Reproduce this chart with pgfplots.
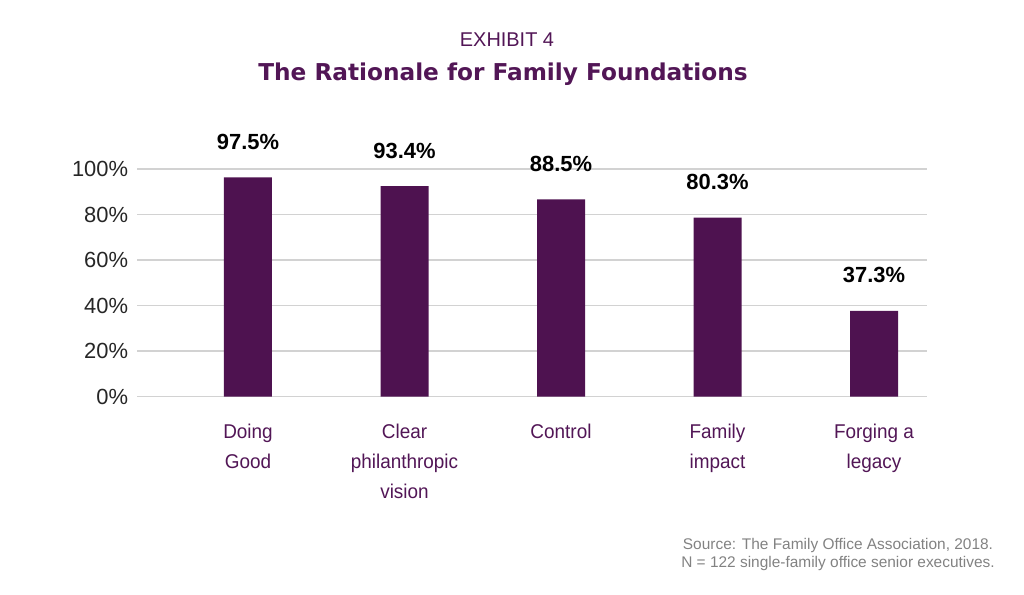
\documentclass[border=0pt]{standalone}
\usepackage{pgfplots}
\pgfplotsset{compat=1.18}
\usepackage{fontspec}
\setmainfont{Liberation Sans}
\newfontfamily\catfont[FakeStretch=0.95]{Liberation Sans}
\newfontfamily\titlefont{DejaVu Sans}
\definecolor{barpurple}{RGB}{78,18,80}
\definecolor{txtpurple}{RGB}{82,22,86}
\definecolor{gridgray}{RGB}{210,210,210}
\definecolor{srcgray}{RGB}{130,130,130}
\definecolor{tickgray}{RGB}{38,38,38}
\begin{document}
\begin{tikzpicture}
\useasboundingbox (0,0) rectangle (1024bp,-595bp);
\node[font=\fontsize{20}{24}\selectfont, text=txtpurple, anchor=base, inner sep=0pt] at (507bp,-46bp) {EXHIBIT 4};
\node[font=\titlefont\bfseries\fontsize{23.3}{27}\selectfont, text=txtpurple, anchor=base, inner sep=0pt] at (503bp,-80bp) {The Rationale for Family Foundations};
\begin{axis}[
  at={(137.3bp,-396.5bp)}, anchor=south west,
  scale only axis, width=789.4bp, height=227.5bp,
  xmin=-0.7073, xmax=4.3367, ymin=0, ymax=100,
  clip=false,
  axis line style={draw=none}, major tick length=0pt,
  ytick={0,20,40,60,80,100},
  yticklabels={0\%,20\%,40\%,60\%,80\%,100\%},
  yticklabel style={font=\fontsize{22}{25}\selectfont, text=tickgray, inner sep=0pt, xshift=-9bp},
  xtick={0,1,2,3,4},
  xticklabels={{Doing\\Good},{Clear\\philanthropic\\vision},{Control},{Family\\impact},{Forging a\\legacy}},
  xticklabel style={align=center, font=\catfont\fontsize{20}{30.5}\selectfont, text=txtpurple, anchor=north, inner sep=0pt, yshift=-27bp},
  ymajorgrids, grid style={gridgray, line width=1.6bp},
]
\addplot[ybar, bar width=48bp, fill=barpurple, draw=none,
  nodes near coords, point meta=explicit symbolic,
  nodes near coords style={anchor=base, inner sep=0pt, yshift=28bp, font=\bfseries\fontsize{22}{26}\selectfont, text=black}]
  coordinates {(0,96.3) [97.5\%] (1,92.5) [93.4\%] (2,86.7) [88.5\%] (3,78.6) [80.3\%] (4,37.6) [37.3\%]};
\end{axis}
\node[font=\fontsize{15.5}{18}\selectfont, text=srcgray, anchor=base, inner sep=0pt] at (838bp,-549bp) {Source: The Family Office Association, 2018.};
\node[font=\fontsize{15.5}{18}\selectfont, text=srcgray, anchor=base, inner sep=0pt] at (838bp,-567bp) {N = 122 single-family office senior executives.};
\end{tikzpicture}
\end{document}
